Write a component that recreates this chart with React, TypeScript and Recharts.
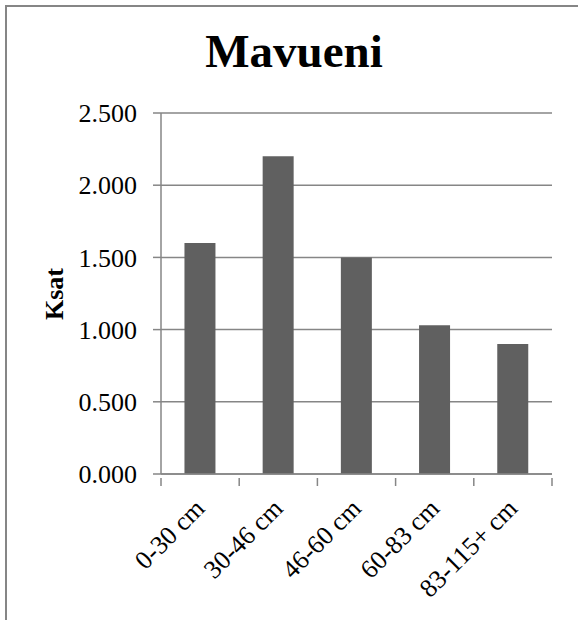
import React from "react";
import { BarChart, Bar, XAxis, YAxis, CartesianGrid } from "recharts";

const depths = ["0-30 cm", "30-46 cm", "46-60 cm", "60-83 cm", "83-115+ cm"];
const ksat = [1.6, 2.2, 1.5, 1.03, 0.9];
const yTicks = [0, 0.5, 1, 1.5, 2, 2.5];

const data = depths.map((name, i) => ({ name, value: ksat[i] }));

const FONT = "'Liberation Serif', 'Times New Roman', serif";
const GRAY = "#868686";

// label rotated at the band centre, tick marks drawn on the band edges
const DepthTick = (props: any) => {
  const { x, y, payload, index } = props;
  const half = payload?.offset ?? 0;
  const last = index === depths.length - 1;
  const ax = x + 6;
  const ay = y + 30;
  return (
    <g>
      <line x1={x - half} x2={x - half} y1={y - 2} y2={y + 6} stroke={GRAY} strokeWidth={1.5} />
      {last && (
        <line x1={x + half} x2={x + half} y1={y - 2} y2={y + 6} stroke={GRAY} strokeWidth={1.5} />
      )}
      <text
        x={ax}
        y={ay}
        transform={`rotate(-45, ${ax}, ${ay})`}
        textAnchor="end"
        fontFamily={FONT}
        fontSize={26}
        fill="#000"
      >
        {payload.value}
      </text>
    </g>
  );
};

export default function App() {
  return (
    <div>
      <div
        style={{
          position: "absolute",
          left: 5,
          top: 5,
          width: 573,
          height: 615,
          borderLeft: `2px solid ${GRAY}`,
          borderTop: `2px solid ${GRAY}`,
          boxSizing: "border-box",
          background: "#fff",
        }}
      >
        <BarChart
          width={571}
          height={613}
          data={data}
          margin={{ top: 106, right: 26, left: 0, bottom: 0 }}
          barCategoryGap="30%"
        >
          <CartesianGrid vertical={false} stroke={GRAY} strokeWidth={1.5} />
          <XAxis
            dataKey="name"
            tickLine={false}
            axisLine={{ stroke: GRAY, strokeWidth: 1.5 }}
            tick={<DepthTick />}
            tickMargin={0}
            interval={0}
            height={146}
          />
          <YAxis
            domain={[0, 2.5]}
            ticks={yTicks}
            tickFormatter={(v: number) => v.toFixed(3)}
            width={154}
            tickSize={8}
            tickMargin={16}
            axisLine={{ stroke: GRAY, strokeWidth: 1.5 }}
            tickLine={{ stroke: GRAY, strokeWidth: 1.5 }}
            tick={{ fontFamily: FONT, fontSize: 26, fill: "#000" }}
          />
          <Bar dataKey="value" fill="#606060" isAnimationActive={false} />
        </BarChart>
      </div>
      <div
        style={{
          position: "absolute",
          left: 294,
          top: 28,
          transform: "translateX(-50%)",
          fontFamily: FONT,
          fontWeight: "bold",
          fontSize: 47,
          lineHeight: 1,
          whiteSpace: "nowrap",
        }}
      >
        Mavueni
      </div>
      <div
        style={{
          position: "absolute",
          left: 55,
          top: 294,
          transform: "translate(-50%, -50%) rotate(-90deg)",
          fontFamily: FONT,
          fontWeight: "bold",
          fontSize: 26,
          lineHeight: 1,
          whiteSpace: "nowrap",
        }}
      >
        Ksat
      </div>
    </div>
  );
}
